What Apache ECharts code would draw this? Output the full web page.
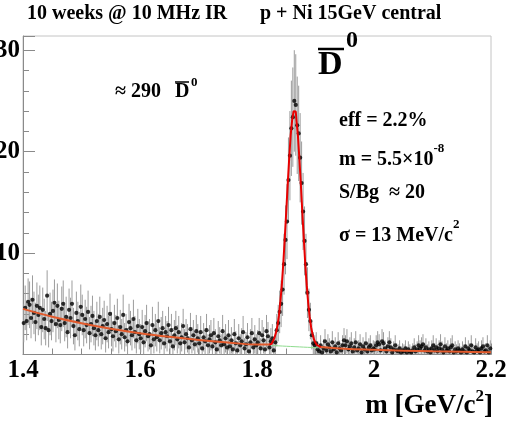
<!DOCTYPE html>
<html><head><meta charset="utf-8">
<script src="https://cdn.jsdelivr.net/npm/echarts@6/dist/echarts.min.js"></script>
<style>html,body{margin:0;padding:0;background:#fff}#c{width:506px;height:421px}</style>
</head><body><div id="c"></div>
<script>
// ---- data ----
const binStart = 1.4;          // GeV
const binWidth = 0.0025;       // GeV per bin
const xTicks = [1.4, 1.6, 1.8, 2.0, 2.2];
const yTicks = [10, 20, 30];
const counts = [
 3.1,4.6,3.3,5.2,4.9,3.6,5.4,4.1,3.2,4.8,3.9,4.6,2.7,4.4,3.5,2.6,5.8,2.4,4.0,3.3,
 4.3,5.1,3.0,4.8,3.4,2.9,4.5,5.0,3.1,3.7,2.2,4.4,3.6,5.0,2.8,1.9,4.1,3.3,2.5,4.7,
 3.9,2.4,3.5,2.9,4.2,2.1,3.0,3.8,2.6,1.9,3.3,2.4,3.7,2.0,2.8,3.4,1.6,3.0,2.2,4.0,
 2.5,1.8,3.1,2.3,3.6,1.5,2.7,2.0,3.9,1.7,2.4,1.3,3.2,2.6,1.9,3.5,2.2,1.4,2.8,2.0,
 1.6,2.7,1.2,2.3,3.1,1.8,2.0,0.9,2.9,1.5,2.4,1.7,3.3,1.4,2.1,2.6,1.1,2.2,1.8,2.9,
 1.3,2.4,0.8,1.9,2.6,1.5,2.2,1.1,1.7,2.8,1.2,2.0,1.6,0.7,2.5,1.4,1.9,1.0,2.3,1.6,
 1.1,2.2,0.6,1.7,1.3,2.4,0.9,1.5,1.9,0.8,2.1,1.2,0.5,1.8,1.4,0.9,2.3,1.0,1.6,0.7,
 1.9,0.8,1.4,0.5,2.0,1.1,0.4,1.6,0.9,1.3,2.2,0.6,1.0,1.7,0.3,1.2,2.1,0.7,1.5,0.9,
 1.2,2.1,0.6,1.9,1.4,0.5,2.3,1.8,0.7,1.3,1.6,0.4,1.2,2.4,3.1,4.2,5.0,6.4,8.9,11.3,
 13.1,17.2,19.6,22.3,23.4,25.0,24.6,22.6,21.8,19.4,16.9,14.1,11.2,8.9,6.1,4.4,3.3,1.9,1.1,0.9,
 1.1,0.5,0.3,0.9,0.2,0.6,1.3,0.4,1.0,0.7,0.3,1.2,0.5,0.8,0.2,1.1,0.6,0.4,0.9,1.4,
 0.9,1.3,0.5,0.8,1.1,0.3,0.7,1.2,0.4,0.6,1.0,0.2,0.8,0.5,1.1,0.3,0.7,0.9,0.4,0.6,
 0.5,0.9,1.2,1.0,0.4,1.3,1.1,0.6,0.3,0.8,1.2,0.7,0.2,0.5,0.9,0.4,0.3,0.6,0.2,0.4,
 0.3,0.6,0.2,0.5,0.3,0.2,0.4,0.7,0.3,0.5,0.9,0.6,0.8,1.0,0.4,0.7,0.3,0.5,0.2,0.6,
 0.9,0.4,0.7,0.3,0.6,1.0,0.5,0.2,0.8,0.4,0.6,0.3,0.7,0.9,0.2,0.5,0.3,0.6,0.4,0.2,
 0.5,0.3,0.8,0.2,0.6,0.4,0.9,0.3,0.2,0.7,0.4,0.5,0.2,0.6,0.8,0.3,0.4,0.9,0.2,0.6
];
const errors = [
 1.9,2.2,1.9,2.3,2.3,2.0,2.4,2.1,1.9,2.3,2.0,2.2,1.8,2.2,2.0,1.7,2.5,1.7,2.1,1.9,
 2.1,2.3,1.8,2.2,1.9,1.8,2.2,2.3,1.8,2.0,1.6,2.1,2.0,2.3,1.8,1.5,2.1,1.9,1.7,2.2,
 2.0,1.6,1.9,1.8,2.1,1.6,1.8,2.0,1.7,1.5,1.9,1.6,2.0,1.5,1.8,1.9,1.4,1.8,1.6,2.0,
 1.7,1.5,1.8,1.6,1.9,1.4,1.7,1.5,2.0,1.4,1.6,1.3,1.8,1.7,1.5,1.9,1.6,1.3,1.7,1.5,
 1.4,1.7,1.3,1.6,1.8,1.5,1.5,1.2,1.8,1.4,1.6,1.4,1.9,1.3,1.6,1.7,1.2,1.6,1.5,1.8,
 1.3,1.6,1.1,1.5,1.7,1.4,1.6,1.2,1.4,1.7,1.3,1.5,1.4,1.1,1.6,1.3,1.5,1.2,1.6,1.4,
 1.2,1.6,1.0,1.4,1.3,1.6,1.1,1.4,1.5,1.1,1.5,1.3,1.0,1.5,1.3,1.1,1.6,1.2,1.4,1.0,
 1.5,1.1,1.3,1.0,1.5,1.2,0.9,1.4,1.1,1.3,1.6,1.0,1.2,1.4,0.9,1.3,1.5,1.0,1.4,1.1,
 1.2,1.5,1.0,1.5,1.3,1.0,1.6,1.4,1.0,1.3,1.4,0.9,1.2,1.6,1.8,2.1,2.3,2.6,3.0,3.4,
 3.7,4.2,4.4,4.7,4.9,5.0,5.0,4.8,4.7,4.4,4.1,3.8,3.4,3.0,2.5,2.1,1.8,1.4,1.1,1.0,
 1.1,0.8,0.7,1.0,0.6,0.9,1.2,0.7,1.0,0.9,0.7,1.1,0.8,0.9,0.6,1.1,0.8,0.7,1.0,1.2,
 1.0,1.2,0.8,0.9,1.1,0.7,0.9,1.1,0.7,0.8,1.0,0.6,0.9,0.8,1.1,0.7,0.9,1.0,0.7,0.8,
 0.8,1.0,1.1,1.0,0.7,1.2,1.1,0.8,0.7,0.9,1.1,0.9,0.6,0.8,1.0,0.7,0.7,0.8,0.6,0.7,
 0.7,0.8,0.6,0.8,0.7,0.6,0.7,0.9,0.7,0.8,1.0,0.8,0.9,1.0,0.7,0.9,0.7,0.8,0.6,0.8,
 1.0,0.7,0.9,0.7,0.8,1.0,0.8,0.6,0.9,0.7,0.8,0.7,0.9,1.0,0.6,0.8,0.7,0.8,0.7,0.6,
 0.8,0.7,0.9,0.6,0.8,0.7,1.0,0.7,0.6,0.9,0.7,0.8,0.6,0.8,0.9,0.7,0.7,1.0,0.6,0.8
];
// total fit (smooth, orange), sampled; '-' = hidden under the peak
const fitX = [1.40,1.45,1.50,1.55,1.60,1.65,1.70,1.75,1.80,1.822,1.865,1.908,1.95,2.00,2.05,2.10,2.15,2.20];
const fitY = [4.50,3.72,3.08,2.54,2.10,1.74,1.44,1.19,0.98,0.99,'-',0.74,0.56,0.46,0.38,0.31,0.26,0.21];
// total fit per bin in the peak region (red)
const peakFirstBin = 168;
const peakFit = [
 0.99,1.06,1.16,1.36,1.67,2.16,2.85,3.85,5.24,6.93,9.02,11.51,14.11,16.8,19.29,21.58,23.08,23.97,
 23.96,23.06,21.55,19.24,16.74,14.03,11.42,8.92,6.81,5.10,3.70,2.69,1.98,1.48,1.15,0.93,0.82,0.73
];
// background component under the peak (green)
const bgX = [1.825, 1.865, 1.905];
const bgY = [0.89, 0.77, 0.66];

const yMin = 0, yMax = 31.4;
const xMin = 1.4, xMax = 2.2;

// ---- build ----
const binCenter = i => binStart + (i + 0.5) * binWidth;
const pts = counts.map((v, i) => [binCenter(i), v, errors[i]]);
const peakData = peakFit.map((v, i) => [binCenter(peakFirstBin + i), v]);
const fitData = fitX.map((x, i) => [x, fitY[i]]);
const bgData = bgX.map((x, i) => [x, bgY[i]]);

const FF = '"Liberation Serif","Times New Roman",serif';
const axisGray = '#8a8a8a';
const chart = echarts.init(document.getElementById('c'), null, {renderer: 'canvas'});

function txt(text, x, y, size, extra) {
  return {type: 'text', z: 100, style: Object.assign({
    text, x, y, fill: '#000', font: 'bold ' + size + 'px ' + FF,
    textAlign: 'left', textVerticalAlign: 'middle'}, extra || {})};
}
function richSup(main, sup, x, y, size, supSize, lh) {
  return {type: 'text', z: 100, style: {
    text: '{n|' + main + '}{s|' + sup + '}', x, y, textAlign: 'left', textVerticalAlign: 'middle',
    rich: {
      n: {font: 'bold ' + size + 'px ' + FF, fill: '#000', lineHeight: lh, verticalAlign: 'bottom'},
      s: {font: 'bold ' + supSize + 'px ' + FF, fill: '#000', verticalAlign: 'top'}
    }}};
}
function hline(x1, x2, y, w) {
  return {type: 'line', z: 101, shape: {x1, y1: y, x2, y2: y}, style: {stroke: '#000', lineWidth: w}};
}

chart.setOption({
  animation: false,
  backgroundColor: '#fff',
  grid: {left: 23, right: 15, top: 36, bottom: 66.5, show: true, borderColor: '#c4c4c4', borderWidth: 1,
    containLabel: false, outerBoundsMode: 'none'},
  xAxis: {
    type: 'value', min: xMin, max: xMax, interval: 0.2,
    axisLine: {show: true, lineStyle: {color: axisGray}},
    axisTick: {inside: true, length: 11, lineStyle: {color: axisGray}},
    minorTick: {show: true, splitNumber: 4, length: 6, lineStyle: {color: axisGray}},
    splitLine: {show: false},
    axisLabel: {margin: 4, color: '#000', fontSize: 25, fontWeight: 'bold', fontFamily: FF,
      hideOverlap: false,
      formatter: v => {const t = xTicks.find(k => Math.abs(k - v) < 1e-6); return t === undefined ? '' : String(+t.toFixed(1));}}
  },
  yAxis: {
    type: 'value', min: yMin, max: yMax, interval: 10,
    axisLine: {show: true, lineStyle: {color: axisGray}},
    axisTick: {inside: true, length: 12, lineStyle: {color: axisGray}},
    minorTick: {show: true, splitNumber: 5, length: 6, lineStyle: {color: axisGray}},
    splitLine: {show: false},
    axisLabel: {margin: 3, color: '#000', fontSize: 25, fontWeight: 'bold', fontFamily: FF,
      showMinLabel: false, showMaxLabel: false,
      formatter: v => {const t = yTicks.find(k => Math.abs(k - v) < 1e-6); return t === undefined ? '' : String(t);}}
  },
  series: [
    {
      type: 'custom', z: 1, clip: true,
      data: pts, encode: {x: 0, y: 1},
      renderItem: (params, api) => {
        const x = api.value(0), y = api.value(1), e = api.value(2);
        const lo = Math.max(y - e, yMin), hi = Math.min(y + e, yMax);
        const p1 = api.coord([x, lo]), p2 = api.coord([x, hi]);
        return {type: 'line', shape: {x1: p1[0], y1: p1[1], x2: p2[0], y2: p2[1]},
          style: {stroke: '#9c9c9c', lineWidth: 1}};
      }
    },
    {
      type: 'scatter', z: 2, data: pts.map(p => [p[0], p[1]]),
      symbol: 'circle', symbolSize: 4.2, itemStyle: {color: '#000'}, silent: true
    },
    {
      type: 'line', z: 3, data: bgData, showSymbol: false, smooth: true,
      lineStyle: {color: '#8fdc8f', width: 1}
    },
    {
      type: 'line', z: 4, data: fitData, showSymbol: false, smooth: 0.4, connectNulls: false,
      lineStyle: {color: '#e25a2c', width: 2}
    },
    {
      type: 'line', z: 5, data: peakData, showSymbol: false, step: 'middle',
      lineStyle: {color: '#e80000', width: 2}
    }
  ],
  graphic: [
    txt('10 weeks @ 10 MHz IR', 27, 14, 20),
    txt('p + Ni 15GeV central', 260, 14, 20),
    txt('\u2248 290', 115, 92, 20),
    txt('D', 175, 92, 20),
    hline(175, 189, 82, 1.5),
    txt('0', 191, 83, 13),
    txt('D', 318, 65, 34),
    hline(318, 344, 49, 2.5),
    txt('0', 346, 41, 24),
    txt('eff = 2.2%', 339, 121, 20),
    richSup('m = 5.5\u00d710', '-8', 339, 156, 20, 13, 28),
    txt('S/Bg  \u2248 20', 339, 193, 20),
    richSup('\u03c3 = 13 MeV/c', '2', 339, 232, 20, 13, 28),
    {type: 'text', z: 100, style: {
      text: '{n|m [GeV/c}{s|2}{n|]}', x: 493, y: 404, textAlign: 'right', textVerticalAlign: 'middle',
      rich: {
        n: {font: 'bold 27px ' + FF, fill: '#000', lineHeight: 32, verticalAlign: 'bottom'},
        s: {font: 'bold 17px ' + FF, fill: '#000', verticalAlign: 'top'}
      }}}
  ]
});
</script></body></html>
